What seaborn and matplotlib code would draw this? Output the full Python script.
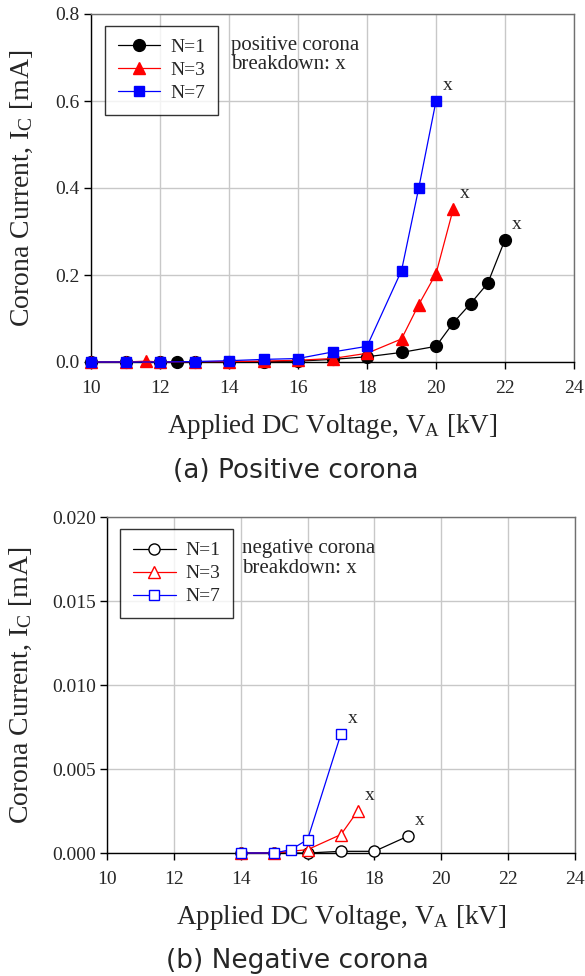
import matplotlib
matplotlib.use("Agg")
import matplotlib.pyplot as plt
import seaborn as sns
import numpy as np
import pandas as pd
from matplotlib.ticker import FormatStrFormatter

# ---------------- data ----------------
labels = ["N=1", "N=3", "N=7"]

v1_pos = [10, 11, 12, 12.5, 13, 14, 15, 16, 17, 18, 19, 20, 20.5, 21, 21.5, 22]
i1_pos = [0, 0, 0, 0, 0.0005, 0.001, 0.001, 0.002, 0.006, 0.012, 0.022, 0.036, 0.090, 0.134, 0.181, 0.281]
v3_pos = [10, 11, 11.6, 12, 13, 14, 15, 16, 17, 18, 19, 19.5, 20, 20.5]
i3_pos = [0, 0, 0.002, 0, 0.001, 0.001, 0.002, 0.004, 0.008, 0.020, 0.053, 0.132, 0.203, 0.352]
v7_pos = [10, 11, 12, 13, 14, 15, 16, 17, 18, 19, 19.5, 20]
i7_pos = [0, 0, 0, 0.001, 0.003, 0.006, 0.008, 0.023, 0.036, 0.210, 0.400, 0.600]

v1_neg = [14, 15, 16, 17, 18, 19]
i1_neg = [0, 0, 0, 0.0001, 0.0001, 0.0010]
v3_neg = [14, 15, 16, 17, 17.5]
i3_neg = [0, 0, 0.0002, 0.0011, 0.0025]
v7_neg = [14, 15, 15.5, 16, 17]
i7_neg = [0, 0, 0.0002, 0.0008, 0.0071]

x_ticks = [10, 12, 14, 16, 18, 20, 22, 24]
y_ticks_pos = [0.0, 0.2, 0.4, 0.6, 0.8]
y_ticks_neg = [0.000, 0.005, 0.010, 0.015, 0.020]

colors = ["black", "red", "blue"]
markers = ["o", "^", "s"]

# ---------------- style ----------------
sns.set_style("white")
plt.rcParams["font.family"] = ["Liberation Serif", "DejaVu Serif"]
plt.rcParams["mathtext.fontset"] = "custom"
plt.rcParams["mathtext.rm"] = "Liberation Serif"
plt.rcParams["mathtext.it"] = "Liberation Serif:italic"

fig = plt.figure(figsize=(5.85, 9.76), dpi=100)
ax1 = fig.add_axes([91/585, 1-362/976, 483/585, 348/976])
ax2 = fig.add_axes([107/585, 1-853/976, 468/585, 336/976])


def draw(ax, series, filled, ms_list, ylim, yticks, yfmt, note, leg_loc, note_xy, ylab_x, xlab_y):
    for k, (xs, ys) in enumerate(series):
        df = pd.DataFrame({"V": xs, "I": ys})
        kw = dict(marker=markers[k], color=colors[k], markersize=ms_list[k],
                  linewidth=0.9, markeredgecolor=colors[k], label=labels[k],
                  markeredgewidth=1.0, clip_on=False, zorder=3 + k)
        kw["markerfacecolor"] = colors[k] if filled else "white"
        sns.lineplot(data=df, x="V", y="I", ax=ax, **kw)
        ax.annotate("x", xy=(xs[-1], ys[-1]), xytext=(5, 5), textcoords="offset points",
                    ha="left", va="bottom", fontsize=14)
    ax.set_xlim(10, 24)
    ax.set_ylim(*ylim)
    ax.set_xticks(x_ticks)
    ax.set_yticks(yticks)
    ax.yaxis.set_major_formatter(FormatStrFormatter(yfmt))
    ax.grid(True, color="#c8c8c8", linewidth=1.0)
    ax.set_axisbelow(True)
    for s in ["left", "bottom"]:
        ax.spines[s].set_color("black")
        ax.spines[s].set_linewidth(1.0)
        ax.spines[s].set_zorder(2.5)
    for s in ["top", "right"]:
        ax.spines[s].set_color("#707070")
        ax.spines[s].set_linewidth(1.0)
    ax.tick_params(axis="both", which="major", direction="out", length=5, width=1,
                   color="black", labelsize=14, bottom=True, left=True)
    ax.tick_params(axis="x", pad=8)
    ax.tick_params(axis="y", pad=3)
    ax.set_xlabel(r"Applied DC Voltage, V$_{\mathrm{A}}$ [kV]", fontsize=19.5)
    ax.set_ylabel(r"Corona Current, I$_{\mathrm{C}}$ [mA]", fontsize=20)
    ax.yaxis.set_label_coords(ylab_x, 0.5)
    ax.xaxis.set_label_coords(0.5, xlab_y)
    ax.xaxis.label.set_va("top")
    leg = ax.legend(loc="upper left", bbox_to_anchor=leg_loc, frameon=True, fancybox=False,
                    edgecolor="black", fontsize=14, handlelength=2.2, borderpad=0.65,
                    labelspacing=0.28, handletextpad=0.5, borderaxespad=0.0)
    leg.get_frame().set_linewidth(1.0)
    ax.text(note_xy[0], note_xy[1], note, transform=ax.transAxes, ha="left", va="top",
            fontsize=15, linespacing=1.05)


draw(ax1, [(v1_pos, i1_pos), (v3_pos, i3_pos), (v7_pos, i7_pos)], True, [8.5, 8.5, 7.5],
     (0, 0.8), y_ticks_pos, "%.1f", "positive corona\nbreakdown: x", (0.029, 0.966),
     (0.29, 0.938), -0.115, -0.145)
draw(ax2, [(v1_neg, i1_neg), (v3_neg, i3_neg), (v7_neg, i7_neg)], False, [8, 8, 7],
     (0, 0.020), y_ticks_neg, "%.3f", "negative corona\nbreakdown: x", (0.028, 0.964),
     (0.288, 0.934), -0.157, -0.150)

fig.text(0.505, 1-471/976, "(a) Positive corona", ha="center", va="center",
         fontsize=19, family=["DejaVu Sans"])
fig.text(0.508, 1-961/976, "(b) Negative corona", ha="center", va="center",
         fontsize=19, family=["DejaVu Sans"])

fig.savefig("out.png", dpi=100)
